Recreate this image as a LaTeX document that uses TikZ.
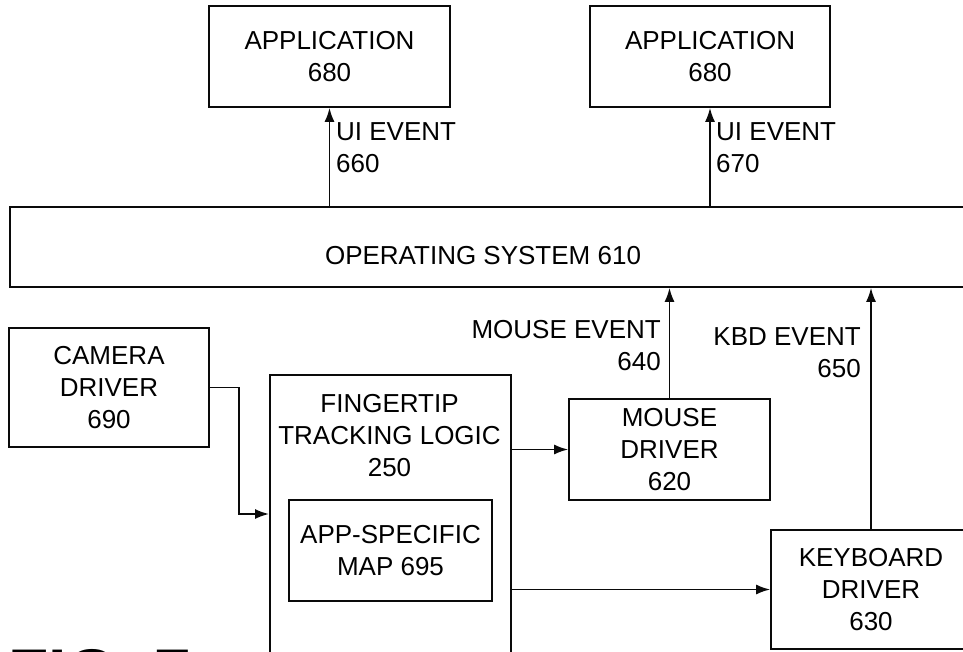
\documentclass[tikz,border=0pt]{standalone}
\usepackage{fontspec}
\setmainfont{Liberation Sans}
\usepackage{tikz}
\usetikzlibrary{shapes,arrows.meta,positioning,calc}
\definecolor{inkblack}{RGB}{10,10,10}

\tikzset{
  block/.style={draw=inkblack, line width=1.7pt, inner sep=0pt, align=center,
    font=\fontsize{26}{32}\selectfont},
  words/.style={inner sep=0pt, font=\fontsize{26}{32}\selectfont},
  flow/.style={draw=inkblack, line width=1.7pt, -{Latex[length=14pt,width=10pt]}}
}

\begin{document}
\begin{tikzpicture}[x=1pt, y=-1pt]
\useasboundingbox (0,0) rectangle (963,651);
\clip (0,0) rectangle (963,651);

\node[block, minimum width=241pt, minimum height=101pt] (appA) at (329.5,56.5) {APPLICATION\\680};
\node[block, minimum width=240pt, minimum height=101pt] (appB) at (710,56.5) {APPLICATION\\680};
\node[block, minimum width=956pt, minimum height=80pt] (os) at (488,247) {};
\node[words] (osname) at (483,256) {OPERATING SYSTEM 610};

\node[block, minimum width=200pt, minimum height=119pt] (cam) at (109,387.5) {CAMERA\\DRIVER\\690};
\node[block, anchor=north west, minimum width=241pt, minimum height=300pt] (track) at (269,374) {};
\node[words, align=center] (trackname) at (389.5,436) {FINGERTIP\\TRACKING LOGIC\\250};
\node[block, minimum width=203pt, minimum height=101pt] (map) at (390.5,550.5) {APP-SPECIFIC\\MAP 695};
\node[block, minimum width=201pt, minimum height=101pt] (mouse) at (669.5,449.5) {MOUSE\\DRIVER\\620};
\node[block, minimum width=200pt, minimum height=119pt] (kbd) at (871,589.5) {KEYBOARD\\DRIVER\\630};

% events
\draw[flow] (appA.south |- os.north) -- (appA.south);
\draw[flow] (appB.south |- os.north) -- (appB.south);
\node[words, align=left, anchor=west] (uiA) at (336,148) {UI EVENT\\660};
\node[words, align=left, anchor=west] (uiB) at (716,148) {UI EVENT\\670};
\draw[flow] (mouse.north) -- (mouse.north |- os.south);
\draw[flow] (kbd.north) -- (kbd.north |- os.south);
\node[words, align=right, anchor=east] (mev) at (661,346) {MOUSE EVENT\\640};
\node[words, align=right, anchor=east] (kev) at (861,353) {KBD EVENT\\650};

% inputs
\coordinate (camin) at (track.west |- 0,514);
\draw[flow] (cam.east) -- ++(29,0) |- (camin);
\draw[flow] (track.east |- mouse.west) -- (mouse.west);
\draw[flow] (track.east |- kbd.west) -- (kbd.west);

\node[inner sep=0pt, anchor=north west, font=\fontsize{66}{70}\selectfont\bfseries] (fig) at (8,649) {FIG. 7};
\end{tikzpicture}
\end{document}
